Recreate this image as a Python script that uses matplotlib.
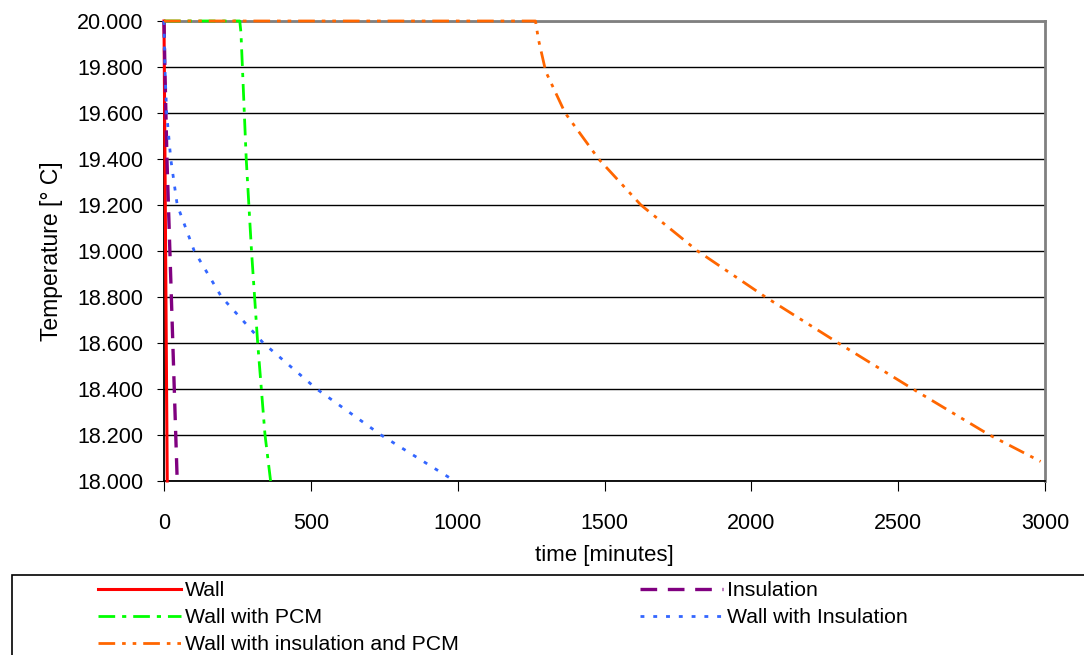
import matplotlib
matplotlib.use('Agg')
import matplotlib.pyplot as plt
from matplotlib.patches import Rectangle
from matplotlib.ticker import FormatStrFormatter

plt.rcParams['font.family'] = ['Liberation Sans', 'DejaVu Sans']

# время [мин] и температура [°C] по каждой кривой
wall_t = [0, 3, 6, 9, 11]
wall_T = [20.0, 19.45, 18.9, 18.35, 18.0]

ins_t = [0, 3, 10, 25, 35, 45]
ins_T = [20.0, 19.8, 19.4, 18.8, 18.4, 18.0]

pcm_t = [0, 258, 262, 267, 280, 298, 319, 344, 363]
pcm_T = [20.0, 20.0, 19.95, 19.8, 19.4, 19.0, 18.6, 18.2, 18.0]

wins_t = [0, 3, 9, 23, 45, 103, 196, 338, 520, 739, 990]
wins_T = [20.0, 19.8, 19.6, 19.4, 19.2, 19.0, 18.8, 18.6, 18.4, 18.2, 18.0]

winspcm_t = [0, 1265, 1275, 1300, 1366, 1480, 1624, 1817, 2048, 2296, 2550, 2811, 2985]
winspcm_T = [20.0, 20.0, 19.92, 19.78, 19.6, 19.4, 19.2, 19.0, 18.8, 18.6, 18.4, 18.2, 18.085]

labels = ['Wall', 'Insulation', 'Wall with PCM', 'Wall with Insulation',
          'Wall with insulation and PCM']

fig = plt.figure(figsize=(10.84, 6.55), dpi=100)
ax = fig.add_axes([164/1084, 1 - 481/655, (1045-164)/1084, (481-21)/655])

l_wall, = ax.plot(wall_t, wall_T, color='#FF0000', lw=2.2, label=labels[0], clip_on=False, zorder=3)
l_ins, = ax.plot(ins_t, ins_T, color='#800080', lw=2.4, ls=(0, (5, 3.2)), label=labels[1], clip_on=False, zorder=3)
l_pcm, = ax.plot(pcm_t, pcm_T, color='#00FF00', lw=2, ls=(0, (6, 2.5, 1.5, 2.5)), label=labels[2], clip_on=False, zorder=3)
l_wins, = ax.plot(wins_t, wins_T, color='#3366FF', lw=2, ls=(0, (1.4, 3.2)), label=labels[3], clip_on=False, zorder=3)
l_wip, = ax.plot(winspcm_t, winspcm_T, color='#FF6600', lw=2,
                 ls=(0, (6, 2.5, 1.3, 2.5, 1.3, 2.5)), label=labels[4], clip_on=False, zorder=3)

ax.set_xlim(0, 3000)
ax.set_ylim(18, 20)
ax.set_xticks([0, 500, 1000, 1500, 2000, 2500, 3000])
ax.set_yticks([18 + 0.2*i for i in range(11)])
ax.yaxis.set_major_formatter(FormatStrFormatter('%.3f'))
ax.yaxis.grid(True, color='black', lw=1)
ax.set_axisbelow(True)
ax.tick_params(axis='y', direction='out', length=5, pad=10, labelsize=15.5)
ax.tick_params(axis='x', direction='out', length=7, pad=16, labelsize=15.5)

for s in ['left', 'bottom']:
    ax.spines[s].set_color('black')
    ax.spines[s].set_linewidth(1.3)
for s in ['top', 'right']:
    ax.spines[s].set_color('#808080')
    ax.spines[s].set_linewidth(2)

ax.set_xlabel('time [minutes]', fontsize=16, labelpad=8)
ax.set_ylabel('Temperature [° C]', fontsize=16.5, labelpad=10)

# рамка легенды уходит за край картинки
fig.patches.append(Rectangle((12/1084, -0.1), 1.2, 0.1 + (655-575)/655,
                             transform=fig.transFigure, fill=False,
                             edgecolor='black', lw=1.2, clip_on=False))

handles = [l_wall, l_pcm, l_wip, l_ins, l_wins]
fig.legend(handles, [h.get_label() for h in handles], ncol=2,
           loc='upper left', bbox_to_anchor=(98/1084, (655-581)/655),
           frameon=False, fontsize=15.3, handlelength=3.9, handletextpad=0.2,
           columnspacing=8.5, labelspacing=0.38, borderpad=0, borderaxespad=0)

fig.savefig('out.png', dpi=100)
